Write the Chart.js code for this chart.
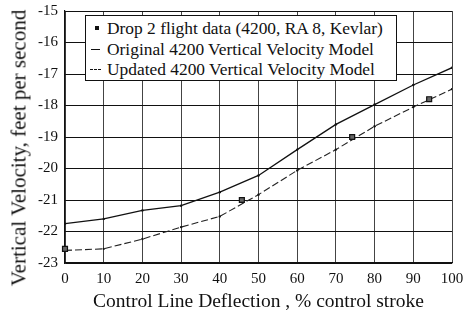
<!DOCTYPE html>
<html><head><meta charset="utf-8">
<script src="https://cdn.jsdelivr.net/npm/chart.js@4.4.1/dist/chart.umd.min.js"></script>
<style>
html,body{margin:0;padding:0;background:#fff;}
#wrap{position:relative;width:466px;height:314px;overflow:hidden;}
#legend{position:absolute;left:85px;top:15px;width:312px;height:66px;border:1px solid #111;background:#fff;box-sizing:border-box;font-family:"Liberation Serif",serif;font-size:17.4px;color:#111;padding:2px 0 0 3px;line-height:20.5px;}
.row{display:flex;align-items:center;white-space:nowrap;}
.mk{width:12px;height:10px;position:relative;margin-right:6px;flex:none;}
#ytitle{position:absolute;left:18.5px;top:148px;transform:translate(-50%,-50%) rotate(-90deg);white-space:nowrap;font-family:"Liberation Serif",serif;font-size:21px;color:#111;line-height:1;}
</style></head>
<body><div id="wrap"><canvas id="c" width="466" height="314"></canvas><div id="ytitle"></div><div id="legend"></div></div>
<script>
const xValues = [0,10,20,30,40,50,60,70,80,90,100];
const originalModel = [-21.75,-21.6,-21.33,-21.18,-20.75,-20.22,-19.4,-18.6,-17.97,-17.35,-16.8];
const updatedModel = [-22.6,-22.55,-22.24,-21.86,-21.52,-20.83,-20.06,-19.4,-18.66,-18.05,-17.48];
const flightX = [0,45.7,74.2,94.1];
const flightY = [-22.55,-21.0,-19.0,-17.8];
const labels = ["Drop 2 flight data (4200, RA 8, Kevlar)","Original 4200 Vertical Velocity Model","Updated 4200 Vertical Velocity Model"];
const xTitle = "Control Line Deflection , % control stroke";
const yTitle = "Vertical Velocity, feet per second";

const serif = "'Liberation Serif', serif";
const ctx = document.getElementById('c');
new Chart(ctx, {
  type:'scatter',
  data:{datasets:[
    {label:labels[0],data:flightX.map((x,i)=>({x:x,y:flightY[i]})),showLine:false,pointStyle:'rect',pointRadius:3.5,backgroundColor:'#666',borderColor:'#111',borderWidth:1.2,order:0,clip:false},
    {label:labels[1],data:xValues.map((x,i)=>({x:x,y:originalModel[i]})),showLine:true,borderColor:'#111',borderWidth:1.3,pointRadius:1.2,pointBackgroundColor:'#111',pointBorderWidth:0,tension:0,order:1},
    {label:labels[2],data:xValues.map((x,i)=>({x:x,y:updatedModel[i]})),showLine:true,borderColor:'#222',borderWidth:1.1,borderDash:[7,3],pointRadius:1.2,pointBackgroundColor:'#111',pointBorderWidth:0,tension:0,order:2}
  ]},
  options:{
    responsive:false,animation:false,
    layout:{padding:{left:0,right:14,top:11,bottom:0}},
    plugins:{legend:{display:false},tooltip:{enabled:false}},
    scales:{
      x:{type:'linear',min:0,max:100,
        ticks:{stepSize:10,color:'#111',font:{family:serif,size:15},padding:7,maxRotation:0},
        grid:{color:'#444',lineWidth:1,drawTicks:false},
        border:{color:'#111',width:1.2},
        title:{display:true,text:xTitle,color:'#111',font:{family:serif,size:19.5},padding:{top:4,bottom:0}},
        afterFit:(s)=>{s.height=51;s.paddingLeft=0;s.paddingRight=0;}
      },
      y:{type:'linear',min:-23,max:-15,
        ticks:{stepSize:1,color:'#111',font:{family:serif,size:15},padding:7},
        grid:{color:'#111',lineWidth:1,drawTicks:false},
        border:{color:'#111',width:1.2},
        title:{display:false,text:yTitle},
        afterFit:(s)=>{s.width=65;s.paddingTop=0;s.paddingBottom=0;}
      }
    }
  }
});
document.getElementById('ytitle').textContent = yTitle;
const lg = document.getElementById('legend');
const marks = [
  '<div class="mk"><div style="position:absolute;left:6px;top:3px;width:4px;height:4px;background:#111"></div></div>',
  '<div class="mk"><div style="position:absolute;left:2px;top:5px;width:9px;border-top:1.3px solid #111"></div></div>',
  '<div class="mk"><div style="position:absolute;left:1px;top:5px;width:11px;border-top:1.3px dashed #111"></div></div>'
];
labels.forEach((t,i)=>{
  const r=document.createElement('div');r.className='row';
  r.innerHTML=marks[i]+'<span>'+t+'</span>';
  lg.appendChild(r);
});
</script></body></html>
